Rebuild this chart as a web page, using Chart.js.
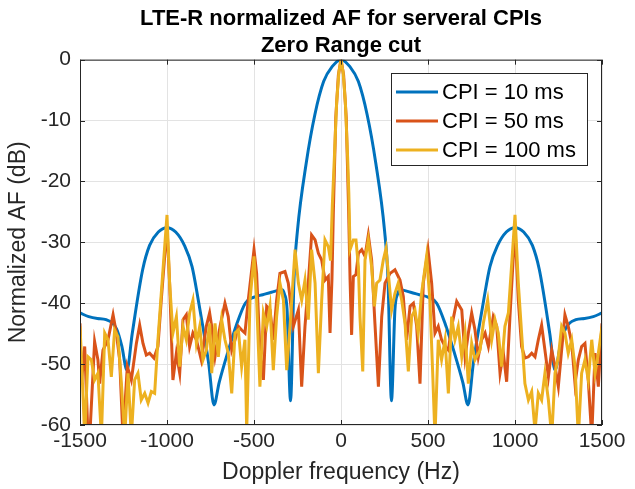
<!DOCTYPE html>
<html>
<head>
<meta charset="utf-8">
<script src="https://cdn.jsdelivr.net/npm/chart.js@4.4.1/dist/chart.umd.min.js"></script>
<style>
  html, body { margin: 0; padding: 0; background: #fff; }
  #wrap { width: 635px; height: 489px; }
</style>
</head>
<body>
<div id="wrap"><canvas id="myChart" width="635" height="489"></canvas></div>
<script>
var titleLines = ['LTE-R normalized AF for serveral CPIs', 'Zero Range cut']
var xLabel = 'Doppler frequency (Hz)'
var yLabel = 'Normalized AF (dB)'
var seriesNames = ['CPI = 10 ms', 'CPI = 50 ms', 'CPI = 100 ms']
var seriesColors = ['#0072BD', '#D95319', '#EDB120']

// CPI = 10 ms (smooth curve)
var freqBlue = [-1500, -1450, -1400, -1350, -1290, -1260, -1230, -1200, -1140, -1100, -1050, -1000,
    -950, -900, -856, -820, -787, -760, -730, -700, -650, -600, -550, -500, -450, -400, -340,
    -325, -310, -290, -270, -250, -200, -150, -100, -50, 0,
    50, 100, 150, 200, 250, 270, 290, 310, 325, 340, 400, 450, 500, 550, 600, 650, 700, 730,
    760, 787, 820, 856, 900, 950, 1000, 1050, 1100, 1140, 1200, 1230, 1260, 1290, 1350, 1400, 1450, 1500]
var dbBlue = [-41.6, -42.2, -42.5, -42.7, -44.2, -47, -51, -45, -34.5, -30.5, -28.3, -27.6,
    -28.3, -30.5, -34, -39.5, -45, -50, -56.7, -53, -48, -43.5, -40, -39, -38.6, -38.2, -37.8,
    -38.5, -41, -56, -36, -28, -17, -9, -3.6, -1.1, 0,
    -1.1, -3.6, -9, -17, -28, -36, -56, -41, -38.5, -37.8, -38.2, -38.6, -39, -40, -43.5, -48, -53, -56.7,
    -50, -45, -39.5, -34, -30.5, -28.3, -27.6, -28.3, -30.5, -34.5, -45, -51, -47, -44.2, -42.7, -42.5, -42.2, -41.6]

// CPI = 50 ms
var freqOrange = [-1500, -1492, -1473, -1454, -1444, -1416, -1397, -1387, -1368, -1339, -1310, -1291, -1272,
    -1253, -1228, -1205, -1176, -1157, -1138, -1119, -1100, -1075, -1052, -1033, -1000, -985, -966,
    -946, -927, -908, -889, -870, -851, -831, -803, -774, -755,
    -743, -724, -695, -667, -648, -628, -609, -590, -571, -552, -533, -500, -485, -466, -446, -427,
    -408, -389, -370, -351, -322, -303, -274, -245, -226, -207, -188, -169, -149, -130, -111, -92,
    -73, -63, -52, -44, -30, -15, 0, 15, 30, 44, 52,
    61, 71, 86, 100, 119, 138, 157, 176, 195, 215, 234, 253, 282, 310, 339, 358, 377, 397, 416,
    435, 454, 473, 500, 521, 540, 559, 578, 598, 617, 636, 665, 694,
    713, 732, 751, 770, 789, 808, 828, 847, 875, 895, 914, 933, 952, 971, 1000, 1019, 1038, 1057,
    1077, 1096, 1115, 1134, 1153, 1172, 1192, 1211, 1230, 1249, 1268, 1287, 1306, 1326, 1345, 1364,
    1383, 1402, 1421, 1441, 1460, 1479, 1500]
var dbOrange = [-43.3, -53.2, -47.1, -62, -62, -46.3, -49.3, -53.2, -47.7, -46, -41.9, -44.9, -49.3,
    -62, -50.4, -52.6, -46.6, -43.6, -46.6, -48.5, -48.2, -49, -47.1, -39.5, -27.4, -36.7, -52.6,
    -48.2, -51.5, -42.7, -41.9, -47.1, -44.9, -46, -49.3, -43.8, -41.6,
    -43.8, -48.8, -43.8, -40, -42.2, -47.7, -46, -43.8, -44.4, -44.9, -39.5, -31.2, -35.1, -47.7, -52.6, -40.5,
    -41.1, -46, -39.5, -35.1, -34.8, -36.7, -43.8, -41.1, -53.7, -43.8, -36.7, -28.8, -29.6, -31.8, -32.9, -36.2,
    -35.6, -44.9, -36, -25, -9.5, -2.5, 0, -2.5, -9.5, -25, -36,
    -45.2, -35.6, -35.3, -31.8, -31.2, -32.3, -28.8, -32.9, -43.3, -53.7, -42.2, -36.7, -35.1, -34.5, -36.2, -38.9, -46, -40.5, -40,
    -43.8, -53.2, -36.7, -31.2, -36.7, -44.9, -43.8, -46, -47.1, -47.7, -43.8, -39.7, -41.1,
    -48.8, -44.9, -41.6, -44.4, -48.8, -46, -44.9, -47.1, -42.2, -43.8, -51.5, -48.2, -52.9, -42.2, -27.4, -39.5, -47.1, -49,
    -48.8, -48.2, -48.8, -46, -43.6, -47.7, -52.1, -47.7, -50.4, -53.7, -47.7, -41.9, -43.8, -46.6, -53.2, -49.3,
    -47.1, -46.6, -52.6, -62, -48.2, -53.7, -43.3]

// CPI = 100 ms
var freqYellow = [-1500, -1492, -1473, -1454, -1435, -1416, -1397, -1377, -1358, -1339, -1320, -1301, -1282,
    -1262, -1243, -1224, -1205, -1186, -1167, -1148, -1128, -1109, -1090, -1071, -1052, -1033, -1000,
    -985, -966, -946, -927, -908, -889, -870, -851, -831, -812, -793, -774, -755,
    -743, -724, -705, -686, -667, -648, -628, -609, -590, -571, -552, -542, -523, -500, -485, -466,
    -446, -427, -408, -389, -370, -351, -331, -312, -293, -264, -245, -226, -207, -188, -169, -149,
    -130, -111, -92, -73, -60, -50, -38, -25, -12, 0, 12, 25, 38, 45, 52,
    71, 86, 100, 109, 125, 138, 157, 176, 192, 205, 224, 243, 259, 272, 291, 310, 329, 349, 368,
    387, 406, 425, 444, 463, 492, 511, 527, 540, 559, 578, 598, 617, 636, 655, 674, 694,
    713, 732, 751, 770, 799, 818, 843, 866, 885, 904, 923, 942, 962, 1000, 1019, 1038, 1057, 1077,
    1096, 1115, 1134, 1153, 1172, 1192, 1211, 1230, 1249, 1268, 1287, 1306, 1326, 1345, 1364, 1383,
    1402, 1421, 1441, 1460, 1479, 1500]
var dbYellow = [-43.8, -48.8, -62, -48.8, -49.3, -52.6, -51.5, -62, -44.9, -46, -52.1, -44.4, -45.5,
    -53.2, -62, -51.5, -62, -52.6, -51.5, -55.9, -54.8, -56.4, -54.5, -54.8, -46, -38.4, -25.5,
    -36.7, -44.9, -42.2, -50.4, -43.8, -46, -41.6, -39.5, -46.6, -43.8, -49.3, -47.7, -43.3,
    -51.5, -43.3, -48.8, -42.7, -46, -48.2, -54.8, -44.9, -44.4, -50.4, -46, -61, -39.5, -32.3, -39.5, -53.7,
    -41.6, -43.8, -40.5, -51, -42.2, -36.7, -39.5, -51, -43.8, -31.2, -36.7, -39.5, -36.2, -42.7, -31.2, -36.7,
    -51.5, -39.5, -29.6, -30.7, -33, -24, -16, -7, -2, 0, -2, -7, -16, -22, -31.2,
    -29.6, -29.6, -34, -42.2, -51.2, -32.9, -29.6, -34, -40.5, -36.7, -36.2, -32.9, -31, -35.1, -41.1, -38.4, -36.7, -39.5, -43.3,
    -51.2, -42.2, -41.1, -44.9, -38.4, -32.3, -39.5, -51.5, -62, -46, -49.3, -46, -54.8, -42.2, -46, -43.8, -48.8,
    -44.9, -53.2, -46.6, -49.3, -47.7, -43.3, -39.5, -46, -42.7, -44.9, -50.4, -43.8, -41.6, -25.5, -36.7, -44.9, -53.2, -55.9,
    -54.5, -61, -54.8, -55.9, -51.5, -55.9, -62, -51.5, -48.8, -43.8, -44.9, -48.2, -46, -50.4, -62, -51.5,
    -49.3, -52.6, -46, -51.5, -48.2, -43.8]

var xTicks = [-1500, -1000, -500, 0, 500, 1000, 1500]
var yTicks = [-60, -50, -40, -30, -20, -10, 0]

function toPoints(xs, ys) {
    var pts = []
    for (var i = 0; i < xs.length; i++) {
        pts.push({ x: xs[i], y: ys[i] })
    }
    return pts
}

var axisColor = '#262626'
var fontName = "'Liberation Sans', Arial, sans-serif"

// box round the axes, inward tick marks, legend inside the plot
var matlabAxes = {
    id: 'matlabAxes',
    afterDraw: function (chart) {
        var ctx = chart.ctx
        var a = chart.chartArea
        var xs = chart.scales.x
        var ys = chart.scales.y
        ctx.save()
        ctx.strokeStyle = axisColor
        ctx.lineWidth = 1
        ctx.strokeRect(a.left + 0.5, a.top + 0.5, a.right - a.left - 1, a.bottom - a.top - 1)
        ctx.beginPath()
        xTicks.forEach(function (v) {
            var px = Math.round(xs.getPixelForValue(v)) + 0.5
            ctx.moveTo(px, a.bottom); ctx.lineTo(px, a.bottom - 5)
            ctx.moveTo(px, a.top); ctx.lineTo(px, a.top + 5)
        })
        yTicks.forEach(function (v) {
            var py = Math.round(ys.getPixelForValue(v)) + 0.5
            ctx.moveTo(a.left, py); ctx.lineTo(a.left + 5, py)
            ctx.moveTo(a.right, py); ctx.lineTo(a.right - 5, py)
        })
        ctx.stroke()

        // legend
        var lx = 391, ly = 73, lw = 196, lh = 92
        ctx.fillStyle = '#fff'
        ctx.fillRect(lx, ly, lw, lh)
        ctx.strokeStyle = axisColor
        ctx.strokeRect(lx + 0.5, ly + 0.5, lw, lh)
        ctx.font = '22px ' + fontName
        ctx.textBaseline = 'middle'
        ctx.textAlign = 'left'
        for (var i = 0; i < seriesNames.length; i++) {
            var yy = ly + 19 + i * 29
            ctx.strokeStyle = seriesColors[i]
            ctx.lineWidth = 3
            ctx.beginPath()
            ctx.moveTo(lx + 5, yy); ctx.lineTo(lx + 47, yy)
            ctx.stroke()
            ctx.fillStyle = '#000'
            ctx.fillText(seriesNames[i], lx + 51, yy + 1)
        }
        ctx.restore()
    }
}

var myChart = new Chart('myChart', {
    type: 'line',
    data: {
        datasets: [{
            label: seriesNames[0],
            data: toPoints(freqBlue, dbBlue),
            borderColor: seriesColors[0],
            borderWidth: 3,
            pointRadius: 0,
            cubicInterpolationMode: 'monotone',
            order: 2
        }, {
            label: seriesNames[1],
            data: toPoints(freqOrange, dbOrange),
            borderColor: seriesColors[1],
            borderWidth: 3,
            pointRadius: 0,
            tension: 0,
            order: 1
        }, {
            label: seriesNames[2],
            data: toPoints(freqYellow, dbYellow),
            borderColor: seriesColors[2],
            borderWidth: 3,
            pointRadius: 0,
            tension: 0,
            order: 0
        }]
    },
    options: {
        responsive: false,
        animation: false,
        devicePixelRatio: 1,
        layout: { padding: { left: 0, right: 33, top: 0, bottom: 0 } },
        plugins: {
            legend: { display: false },
            tooltip: { enabled: false },
            title: {
                display: true,
                text: titleLines,
                color: '#000',
                fullSize: false,
                font: { family: fontName, size: 22, weight: 'bold', lineHeight: 1.22 },
                padding: { top: 6, bottom: 0 }
            }
        },
        scales: {
            x: {
                type: 'linear',
                min: -1500,
                max: 1500,
                afterFit: function (s) { s.height = 64 },
                afterBuildTicks: function (s) { s.ticks = xTicks.map(function (v) { return { value: v } }) },
                ticks: {
                    color: axisColor, font: { family: fontName, size: 21 }, padding: 4, maxRotation: 0,
                    callback: function (v) { return String(v) }
                },
                grid: { color: '#e3e3e3', drawTicks: false },
                border: { display: false },
                title: {
                    display: true, text: xLabel, color: axisColor,
                    font: { family: fontName, size: 23 }, padding: { top: 0, bottom: 3 }
                }
            },
            y: {
                type: 'linear',
                min: -60,
                max: 0,
                afterFit: function (s) { s.width = 80 },
                afterBuildTicks: function (s) { s.ticks = yTicks.map(function (v) { return { value: v } }) },
                ticks: {
                    color: axisColor, font: { family: fontName, size: 21 }, padding: 9,
                    callback: function (v) { return String(v) }
                },
                grid: { color: '#e3e3e3', drawTicks: false },
                border: { display: false },
                title: {
                    display: true, text: yLabel, color: axisColor,
                    font: { family: fontName, size: 23 }, padding: { top: 5, bottom: 0 }
                }
            }
        }
    },
    plugins: [matlabAxes]
});
</script>
</body>
</html>
